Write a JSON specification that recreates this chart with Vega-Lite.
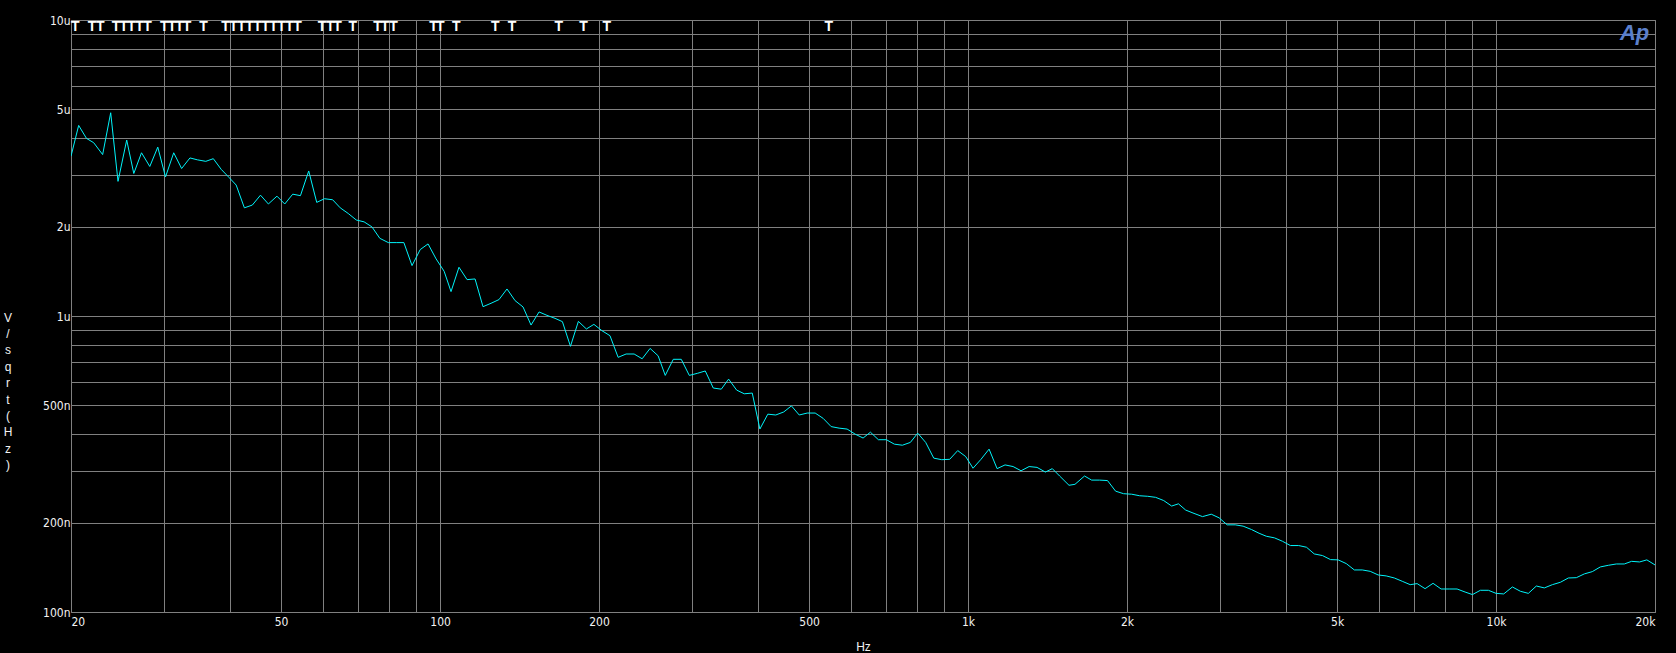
{
  "$schema": "https://vega.github.io/schema/vega-lite/v6.json",
  "width": 1584,
  "height": 592,
  "autosize": {"type": "none"},
  "padding": {"left": 71, "top": 20, "right": 21, "bottom": 41},
  "background": "#000000",
  "config": {
    "view": {"stroke": "#808080", "strokeWidth": 1, "fill": "#000000"},
    "axis": {
      "grid": true,
      "gridColor": "#808080",
      "gridOpacity": 1,
      "gridWidth": 1,
      "ticks": false,
      "domain": false,
      "labelColor": "#f2f2f2",
      "labelFont": "Liberation Sans Narrow, DejaVu Sans Condensed, sans-serif",
      "labelFontSize": 12,
      "labelOverlap": false,
      "titleColor": "#f2f2f2",
      "titleFont": "Liberation Sans, sans-serif",
      "titleFontSize": 12,
      "titleFontWeight": "normal"
    }
  },
  "datasets": {
    "noise": [
      {"freq_hz": 20.0, "noise_nv": 3467},
      {"freq_hz": 20.68, "noise_nv": 4404},
      {"freq_hz": 21.4, "noise_nv": 3980},
      {"freq_hz": 22.08, "noise_nv": 3850},
      {"freq_hz": 22.96, "noise_nv": 3510},
      {"freq_hz": 23.78, "noise_nv": 4860},
      {"freq_hz": 24.55, "noise_nv": 2850},
      {"freq_hz": 25.5, "noise_nv": 3930},
      {"freq_hz": 26.3, "noise_nv": 3030},
      {"freq_hz": 27.2, "noise_nv": 3560},
      {"freq_hz": 28.2, "noise_nv": 3200},
      {"freq_hz": 29.2, "noise_nv": 3720},
      {"freq_hz": 30.2, "noise_nv": 2950},
      {"freq_hz": 31.3, "noise_nv": 3560},
      {"freq_hz": 32.4, "noise_nv": 3150},
      {"freq_hz": 33.6, "noise_nv": 3420},
      {"freq_hz": 34.7, "noise_nv": 3370},
      {"freq_hz": 36.0, "noise_nv": 3330},
      {"freq_hz": 37.2, "noise_nv": 3400},
      {"freq_hz": 38.5, "noise_nv": 3130},
      {"freq_hz": 39.9, "noise_nv": 2930},
      {"freq_hz": 41.1, "noise_nv": 2770},
      {"freq_hz": 42.6, "noise_nv": 2320},
      {"freq_hz": 44.1, "noise_nv": 2370},
      {"freq_hz": 45.7, "noise_nv": 2560},
      {"freq_hz": 47.3, "noise_nv": 2390},
      {"freq_hz": 49.1, "noise_nv": 2540},
      {"freq_hz": 50.8, "noise_nv": 2390},
      {"freq_hz": 52.6, "noise_nv": 2580},
      {"freq_hz": 54.4, "noise_nv": 2550},
      {"freq_hz": 56.4, "noise_nv": 3090},
      {"freq_hz": 58.4, "noise_nv": 2420},
      {"freq_hz": 60.4, "noise_nv": 2490},
      {"freq_hz": 62.6, "noise_nv": 2470},
      {"freq_hz": 64.7, "noise_nv": 2320},
      {"freq_hz": 67.0, "noise_nv": 2220},
      {"freq_hz": 69.4, "noise_nv": 2110},
      {"freq_hz": 71.8, "noise_nv": 2080},
      {"freq_hz": 74.3, "noise_nv": 2000},
      {"freq_hz": 76.9, "noise_nv": 1830},
      {"freq_hz": 79.8, "noise_nv": 1770},
      {"freq_hz": 82.6, "noise_nv": 1770},
      {"freq_hz": 85.4, "noise_nv": 1770},
      {"freq_hz": 88.5, "noise_nv": 1480},
      {"freq_hz": 91.7, "noise_nv": 1676},
      {"freq_hz": 94.9, "noise_nv": 1752},
      {"freq_hz": 98.3, "noise_nv": 1559},
      {"freq_hz": 101.8, "noise_nv": 1416},
      {"freq_hz": 104.9, "noise_nv": 1209},
      {"freq_hz": 108.6, "noise_nv": 1461},
      {"freq_hz": 112.5, "noise_nv": 1327},
      {"freq_hz": 116.5, "noise_nv": 1334},
      {"freq_hz": 120.6, "noise_nv": 1075},
      {"freq_hz": 124.9, "noise_nv": 1104},
      {"freq_hz": 129.3, "noise_nv": 1136},
      {"freq_hz": 133.9, "noise_nv": 1234},
      {"freq_hz": 138.7, "noise_nv": 1127},
      {"freq_hz": 143.6, "noise_nv": 1073},
      {"freq_hz": 148.7, "noise_nv": 932},
      {"freq_hz": 154.0, "noise_nv": 1032},
      {"freq_hz": 159.4, "noise_nv": 1005},
      {"freq_hz": 165.1, "noise_nv": 982},
      {"freq_hz": 170.5, "noise_nv": 957},
      {"freq_hz": 176.6, "noise_nv": 790},
      {"freq_hz": 182.8, "noise_nv": 959},
      {"freq_hz": 189.3, "noise_nv": 904},
      {"freq_hz": 195.6, "noise_nv": 937},
      {"freq_hz": 202.6, "noise_nv": 892},
      {"freq_hz": 209.8, "noise_nv": 858},
      {"freq_hz": 217.4, "noise_nv": 725},
      {"freq_hz": 225.1, "noise_nv": 744},
      {"freq_hz": 233.1, "noise_nv": 744},
      {"freq_hz": 241.4, "noise_nv": 717},
      {"freq_hz": 249.9, "noise_nv": 777},
      {"freq_hz": 258.8, "noise_nv": 734},
      {"freq_hz": 267.0, "noise_nv": 630},
      {"freq_hz": 276.5, "noise_nv": 714},
      {"freq_hz": 286.3, "noise_nv": 714},
      {"freq_hz": 296.5, "noise_nv": 630},
      {"freq_hz": 307.0, "noise_nv": 640},
      {"freq_hz": 317.9, "noise_nv": 652},
      {"freq_hz": 329.2, "noise_nv": 571},
      {"freq_hz": 340.9, "noise_nv": 566},
      {"freq_hz": 352.0, "noise_nv": 612},
      {"freq_hz": 364.5, "noise_nv": 562},
      {"freq_hz": 376.8, "noise_nv": 546},
      {"freq_hz": 390.2, "noise_nv": 549},
      {"freq_hz": 403.4, "noise_nv": 415},
      {"freq_hz": 417.6, "noise_nv": 466},
      {"freq_hz": 432.3, "noise_nv": 463},
      {"freq_hz": 447.6, "noise_nv": 474},
      {"freq_hz": 462.9, "noise_nv": 497},
      {"freq_hz": 478.9, "noise_nv": 463},
      {"freq_hz": 495.9, "noise_nv": 470},
      {"freq_hz": 513.4, "noise_nv": 470},
      {"freq_hz": 531.6, "noise_nv": 451},
      {"freq_hz": 550.4, "noise_nv": 423},
      {"freq_hz": 569.9, "noise_nv": 418},
      {"freq_hz": 590.1, "noise_nv": 415},
      {"freq_hz": 611.0, "noise_nv": 399},
      {"freq_hz": 632.7, "noise_nv": 387},
      {"freq_hz": 653.3, "noise_nv": 405},
      {"freq_hz": 676.4, "noise_nv": 382},
      {"freq_hz": 700.4, "noise_nv": 382},
      {"freq_hz": 725.2, "noise_nv": 369},
      {"freq_hz": 750.9, "noise_nv": 366},
      {"freq_hz": 777.5, "noise_nv": 374},
      {"freq_hz": 802.9, "noise_nv": 402},
      {"freq_hz": 831.3, "noise_nv": 374},
      {"freq_hz": 861.0, "noise_nv": 331},
      {"freq_hz": 891.5, "noise_nv": 327},
      {"freq_hz": 923.1, "noise_nv": 328},
      {"freq_hz": 955.9, "noise_nv": 351},
      {"freq_hz": 989.9, "noise_nv": 335},
      {"freq_hz": 1022, "noise_nv": 306},
      {"freq_hz": 1058, "noise_nv": 328},
      {"freq_hz": 1096, "noise_nv": 355},
      {"freq_hz": 1135, "noise_nv": 305},
      {"freq_hz": 1175, "noise_nv": 314},
      {"freq_hz": 1217, "noise_nv": 310},
      {"freq_hz": 1260, "noise_nv": 300},
      {"freq_hz": 1305, "noise_nv": 310},
      {"freq_hz": 1351, "noise_nv": 308},
      {"freq_hz": 1401, "noise_nv": 297},
      {"freq_hz": 1444, "noise_nv": 305},
      {"freq_hz": 1491, "noise_nv": 288},
      {"freq_hz": 1553, "noise_nv": 268},
      {"freq_hz": 1594, "noise_nv": 270},
      {"freq_hz": 1662, "noise_nv": 288},
      {"freq_hz": 1714, "noise_nv": 279},
      {"freq_hz": 1774, "noise_nv": 279},
      {"freq_hz": 1837, "noise_nv": 278},
      {"freq_hz": 1903, "noise_nv": 256},
      {"freq_hz": 1970, "noise_nv": 251},
      {"freq_hz": 2041, "noise_nv": 250},
      {"freq_hz": 2114, "noise_nv": 247},
      {"freq_hz": 2189, "noise_nv": 246},
      {"freq_hz": 2266, "noise_nv": 244},
      {"freq_hz": 2347, "noise_nv": 238},
      {"freq_hz": 2430, "noise_nv": 228},
      {"freq_hz": 2503, "noise_nv": 232},
      {"freq_hz": 2583, "noise_nv": 221},
      {"freq_hz": 2667, "noise_nv": 216},
      {"freq_hz": 2780, "noise_nv": 210},
      {"freq_hz": 2888, "noise_nv": 214},
      {"freq_hz": 2989, "noise_nv": 208},
      {"freq_hz": 3096, "noise_nv": 197},
      {"freq_hz": 3206, "noise_nv": 197},
      {"freq_hz": 3318, "noise_nv": 195},
      {"freq_hz": 3441, "noise_nv": 190},
      {"freq_hz": 3558, "noise_nv": 184.5},
      {"freq_hz": 3671, "noise_nv": 180.3},
      {"freq_hz": 3806, "noise_nv": 178},
      {"freq_hz": 3939, "noise_nv": 173.4},
      {"freq_hz": 4078, "noise_nv": 167.7},
      {"freq_hz": 4228, "noise_nv": 167.7},
      {"freq_hz": 4375, "noise_nv": 165.5},
      {"freq_hz": 4526, "noise_nv": 157.1},
      {"freq_hz": 4692, "noise_nv": 155.1},
      {"freq_hz": 4859, "noise_nv": 150.3},
      {"freq_hz": 5024, "noise_nv": 150},
      {"freq_hz": 5204, "noise_nv": 145.7},
      {"freq_hz": 5390, "noise_nv": 138.7},
      {"freq_hz": 5580, "noise_nv": 138.7},
      {"freq_hz": 5777, "noise_nv": 137.2},
      {"freq_hz": 5981, "noise_nv": 133.4},
      {"freq_hz": 6193, "noise_nv": 132.4},
      {"freq_hz": 6417, "noise_nv": 130.3},
      {"freq_hz": 6642, "noise_nv": 127},
      {"freq_hz": 6877, "noise_nv": 123.7},
      {"freq_hz": 7088, "noise_nv": 124.7},
      {"freq_hz": 7338, "noise_nv": 119.9},
      {"freq_hz": 7597, "noise_nv": 125},
      {"freq_hz": 7869, "noise_nv": 119.6},
      {"freq_hz": 8150, "noise_nv": 119.6},
      {"freq_hz": 8437, "noise_nv": 119.6},
      {"freq_hz": 8737, "noise_nv": 116.8},
      {"freq_hz": 9021, "noise_nv": 114.5},
      {"freq_hz": 9340, "noise_nv": 118.4},
      {"freq_hz": 9672, "noise_nv": 118.4},
      {"freq_hz": 10001, "noise_nv": 115.6},
      {"freq_hz": 10340, "noise_nv": 115.1},
      {"freq_hz": 10738, "noise_nv": 121.5},
      {"freq_hz": 11120, "noise_nv": 117.5},
      {"freq_hz": 11512, "noise_nv": 115.6},
      {"freq_hz": 11920, "noise_nv": 122.4},
      {"freq_hz": 12344, "noise_nv": 120.6},
      {"freq_hz": 12785, "noise_nv": 123.7},
      {"freq_hz": 13237, "noise_nv": 126},
      {"freq_hz": 13706, "noise_nv": 130.3},
      {"freq_hz": 14193, "noise_nv": 130.6},
      {"freq_hz": 14696, "noise_nv": 134.5},
      {"freq_hz": 15216, "noise_nv": 136.9},
      {"freq_hz": 15758, "noise_nv": 142},
      {"freq_hz": 16318, "noise_nv": 143.8},
      {"freq_hz": 16895, "noise_nv": 145.3},
      {"freq_hz": 17494, "noise_nv": 145.3},
      {"freq_hz": 18060, "noise_nv": 148.3},
      {"freq_hz": 18700, "noise_nv": 147.6},
      {"freq_hz": 19302, "noise_nv": 150},
      {"freq_hz": 20000, "noise_nv": 144.2}
    ],
    "markers": [
      {"marker_hz": 20.38}, {"marker_hz": 21.92}, {"marker_hz": 22.73},
      {"marker_hz": 24.34}, {"marker_hz": 25.17}, {"marker_hz": 26.04}, {"marker_hz": 26.97}, {"marker_hz": 27.93},
      {"marker_hz": 30.04}, {"marker_hz": 31.06}, {"marker_hz": 32.09}, {"marker_hz": 33.16},
      {"marker_hz": 35.65},
      {"marker_hz": 39.23}, {"marker_hz": 40.63}, {"marker_hz": 42.07}, {"marker_hz": 43.57}, {"marker_hz": 45.12},
      {"marker_hz": 46.72}, {"marker_hz": 48.38}, {"marker_hz": 50.10}, {"marker_hz": 51.88}, {"marker_hz": 53.72},
      {"marker_hz": 59.74}, {"marker_hz": 61.94}, {"marker_hz": 63.94},
      {"marker_hz": 68.38},
      {"marker_hz": 76.1}, {"marker_hz": 78.7}, {"marker_hz": 81.6},
      {"marker_hz": 97.2}, {"marker_hz": 100.1},
      {"marker_hz": 107.3},
      {"marker_hz": 127.3}, {"marker_hz": 136.8},
      {"marker_hz": 167.9}, {"marker_hz": 186.9}, {"marker_hz": 206.9},
      {"marker_hz": 545}
    ]
  },
  "layer": [
    {
      "data": {"name": "noise"},
      "mark": {"type": "line", "color": "#00f4fa", "strokeWidth": 1, "clip": true, "interpolate": "linear"},
      "encoding": {
        "x": {
          "field": "freq_hz",
          "type": "quantitative",
          "scale": {"type": "log", "domain": [20, 20000], "nice": false},
          "axis": {
            "title": "Hz",
            "titleBaseline": "middle",
            "titleY": 34,
            "labelPadding": 4,
            "labelFlush": true,
            "values": [20, 30, 40, 50, 60, 70, 80, 90, 100, 200, 300, 400, 500, 600, 700, 800, 900, 1000, 2000, 3000, 4000, 5000, 6000, 7000, 8000, 9000, 10000, 20000],
            "labelExpr": "indexof([20, 50, 100, 200, 500, 1000, 2000, 5000, 10000, 20000], datum.value) >= 0 ? (datum.value >= 1000 ? (datum.value / 1000) + 'k' : datum.value + '') : ''"
          }
        },
        "y": {
          "field": "noise_nv",
          "type": "quantitative",
          "scale": {"type": "log", "domain": [100, 10000], "nice": false},
          "axis": {
            "title": ["V", "/", "s", "q", "r", "t", "(", "H", "z", ")"],
            "titleAngle": 0,
            "titleAlign": "center",
            "titleBaseline": "middle",
            "titleLineHeight": 16.4,
            "titleX": -63.5,
            "titleY": 297,
            "labelPadding": 1,
            "values": [100, 200, 300, 400, 500, 600, 700, 800, 900, 1000, 2000, 3000, 4000, 5000, 6000, 7000, 8000, 9000, 10000],
            "labelExpr": "datum.value == 100 ? '100n' : datum.value == 200 ? '200n' : datum.value == 500 ? '500n' : datum.value == 1000 ? '1u' : datum.value == 2000 ? '2u' : datum.value == 5000 ? '5u' : datum.value == 10000 ? '10u' : ''"
          }
        }
      }
    },
    {
      "data": {"name": "markers"},
      "mark": {"type": "text", "text": "T", "color": "#ffffff", "font": "Liberation Sans, sans-serif", "fontWeight": "bold", "fontSize": 14, "align": "center", "baseline": "alphabetic"},
      "encoding": {
        "x": {"field": "marker_hz", "type": "quantitative"},
        "y": {"datum": 9180}
      }
    },
    {
      "data": {"values": [{"logo": "Ap"}]},
      "mark": {"type": "text", "color": "#5b80cc", "font": "Liberation Sans, sans-serif", "fontStyle": "italic", "fontWeight": "bold", "fontSize": 22, "align": "center", "baseline": "middle"},
      "encoding": {
        "text": {"field": "logo"},
        "x": {"datum": 18300},
        "y": {"datum": 9060}
      }
    }
  ]
}
